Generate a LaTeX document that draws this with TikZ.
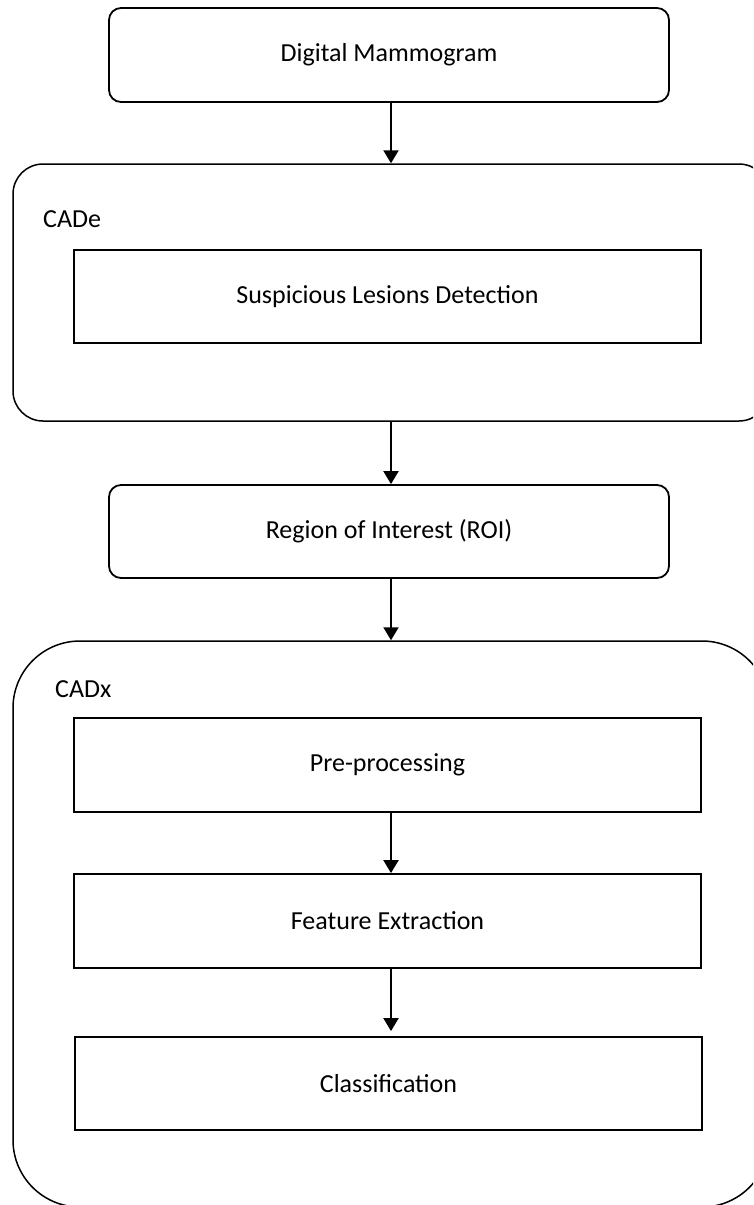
\documentclass[tikz,border=0pt]{standalone}
\usepackage{fontspec}
\setmainfont{Carlito}
\usetikzlibrary{arrows.meta}

\begin{document}
\begin{tikzpicture}[x=1pt,y=-1pt,
  every node/.style={font=\fontsize{26}{30}\selectfont, inner sep=0pt},
  roundbox/.style={draw, line width=1.8pt, rounded corners=12pt,
    minimum width=560pt, minimum height=94pt},
  stepbox/.style={draw, line width=1.8pt, minimum width=627pt, minimum height=93pt},
  group/.style={draw, line width=1.5pt, minimum width=756pt},
  grouplabel/.style={anchor=base west},
  flow/.style={line width=2pt, -{Triangle[width=15pt,length=13pt]}}
]
  % page area
  \fill[white] (0,0) rectangle (753,1205);
  \clip (0,0) rectangle (753,1205);
  \useasboundingbox (0,0) rectangle (753,1205);

  % input image
  \node[roundbox] (dm) at (389,55) {Digital Mammogram};

  % detection stage
  \node[group, rounded corners=30pt, minimum height=257pt] (cade) at (391,292.5) {};
  \node[grouplabel] (cadelabel) at (43,227) {CADe};
  \node[stepbox] (sld) at (387.5,296.5) {Suspicious Lesions Detection};

  % region of interest
  \node[roundbox, minimum height=93pt] (roi) at (389,531.5) {Region of Interest (ROI)};

  % diagnosis stage
  \node[group, rounded corners=67pt, minimum height=566pt] (cadx) at (391,924) {};
  \node[grouplabel] (cadxlabel) at (55,697) {CADx};
  \node[stepbox, minimum height=94pt] (pre) at (387.5,765) {Pre-processing};
  \node[stepbox, minimum height=94pt] (fe) at (387.5,921) {Feature Extraction};
  \node[stepbox] (cls) at (388.5,1083.5) {Classification};

  % connectors
  \draw[flow] (dm.south -| cade.north) -- (cade.north);
  \draw[flow] (cade.south) -- (cade.south |- roi.north);
  \draw[flow] (roi.south -| cadx.north) -- (cadx.north);
  \draw[flow] (pre.south -| cade.south) -- (cade.south |- fe.north);
  \draw[flow, shorten >=5pt] (fe.south -| cade.south) -- (cade.south |- cls.north);
\end{tikzpicture}
\end{document}
